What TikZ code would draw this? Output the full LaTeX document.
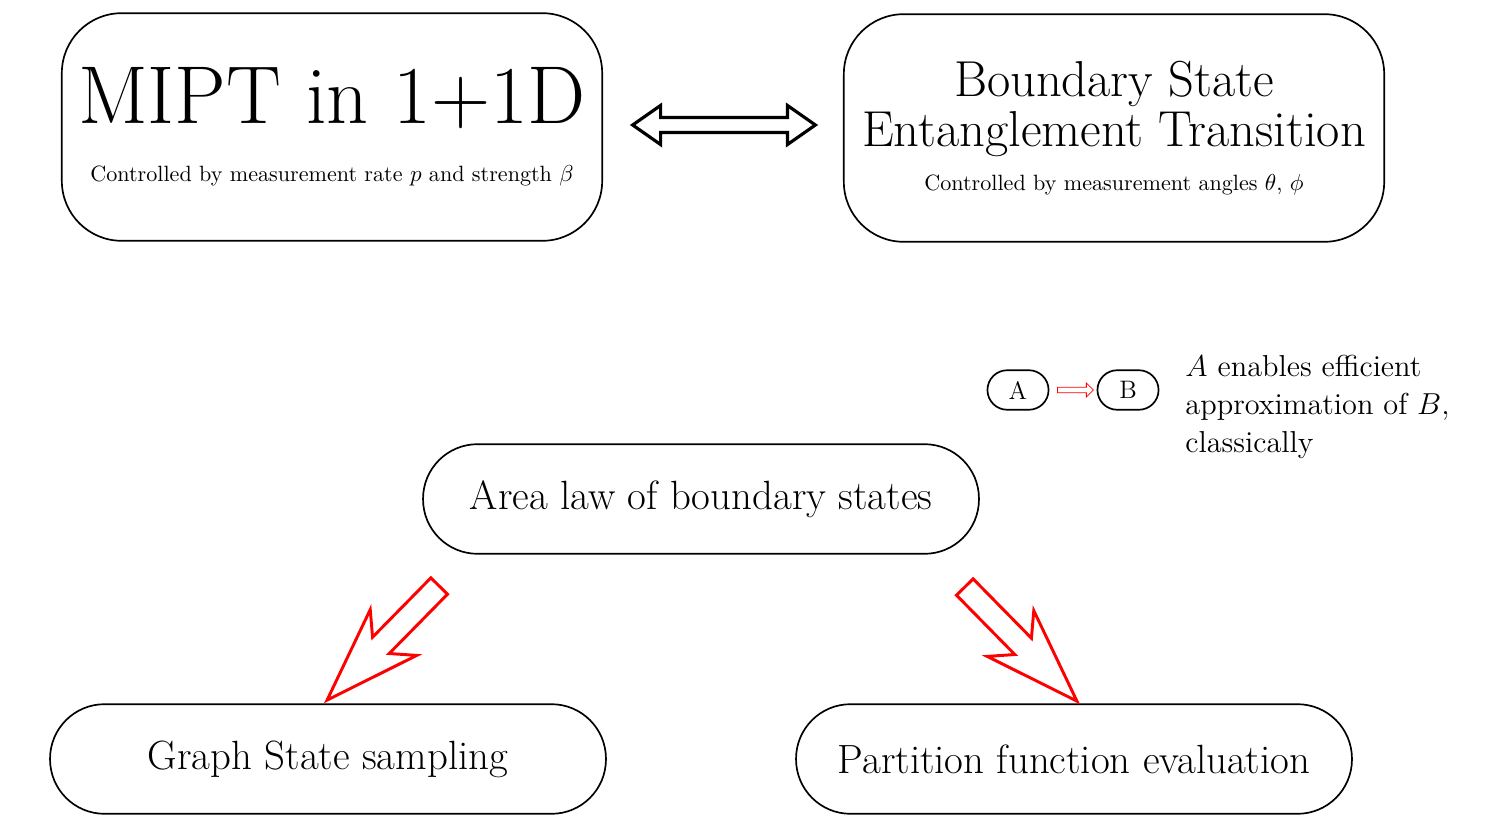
\documentclass[tikz,border=0pt]{standalone}
\usepackage{amsmath}
\usetikzlibrary{positioning,shapes.arrows}

\tikzset{
  bigbox/.style={draw, thick, rounded corners=1cm, align=center,
    minimum width=9.02cm, minimum height=3.8cm},
  pill/.style={draw, thick, rounded corners=0.91cm, font=\fontsize{19.4}{23}\selectfont,
    minimum width=9.28cm, minimum height=1.83cm},
  minipill/.style={draw, thick, rounded corners=0.33cm, font=\large,
    minimum width=1.02cm, minimum height=0.66cm},
  redarrow/.style={single arrow, draw=red, line width=1.4pt, minimum height=2.67cm,
    inner xsep=0pt, inner ysep=0.17cm, single arrow head extend=0.35cm,
    single arrow tip angle=38, single arrow head indent=0.3cm},
}

\begin{document}
\begin{tikzpicture}[x=0.0167cm, y=-0.0167cm]
	\useasboundingbox (0,0) rectangle (1489,830);
	% top row
	\node[bigbox] (mipt) at (332,127)
		{{\fontsize{39}{44}\selectfont MIPT in 1+1D}\\[0.55cm]
		 {\fontsize{10.5}{12}\selectfont Controlled by measurement rate $p$ and strength $\beta$}};
	\node[bigbox] (bset) at (1114,128)
		{{\fontsize{24}{29}\selectfont Boundary State}\\[0.05cm]
		 {\fontsize{24}{29}\selectfont Entanglement Transition}\\[0.25cm]
		 {\fontsize{10.5}{12}\selectfont Controlled by measurement angles $\theta$, $\phi$}};
	\node[double arrow, draw, line width=1.5pt, minimum height=3.05cm,
		inner xsep=0pt, inner ysep=0.1cm, double arrow head extend=0.2cm,
		double arrow tip angle=70] (equiv) at (724,125) {};
	% legend
	\node[minipill] (la) at (1018,390) {A};
	\node[minipill] (lb) at (1128,390) {B};
	\node[single arrow, draw=red, thin, minimum height=0.6cm, inner xsep=0pt,
		inner ysep=0.04cm, single arrow head extend=0.07cm] (lab) at (1074,390) {};
	\node[anchor=north west, align=left, font=\Large, inner sep=0pt] (ltext) at (1185,355)
		{$A$ enables efficient\\approximation of $B$,\\classically};
	% middle and bottom
	\node[pill] (area) at (701,499) {Area law of boundary states};
	\node[pill] (graph) at (328,759) {Graph State sampling};
	\node[pill] (part) at (1074,759) {Partition function evaluation};
	\node[redarrow, rotate=-134.5] (tograph) at (395,631) {};
	\node[redarrow, rotate=-45.5] (topart) at (1009,632) {};
\end{tikzpicture}
\end{document}
